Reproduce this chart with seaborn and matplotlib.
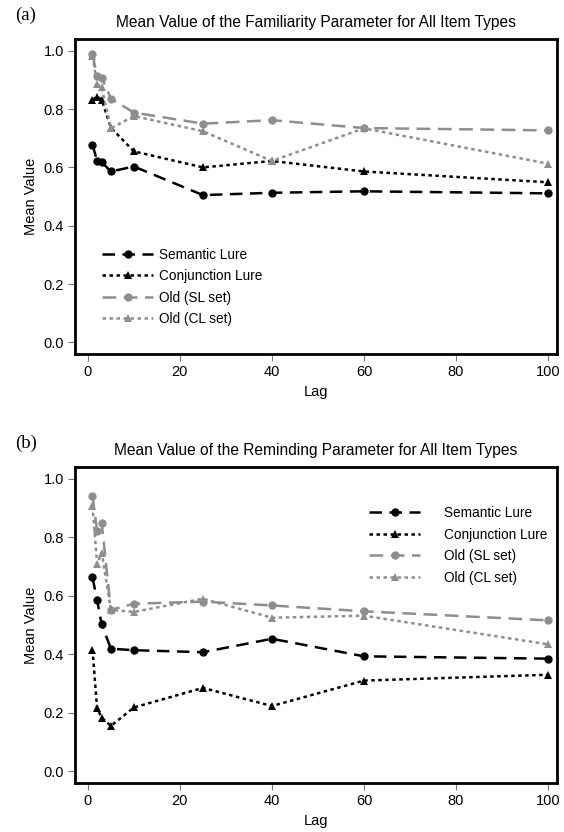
import pandas as pd
import seaborn as sns
import matplotlib.pyplot as plt

# --- data ---
lags = [1, 2, 3, 5, 10, 25, 40, 60, 100]
series_names = ["Semantic Lure", "Conjunction Lure", "Old (SL set)", "Old (CL set)"]

# (a) familiarity parameter
fam_semantic = [0.678, 0.622, 0.618, 0.586, 0.603, 0.505, 0.513, 0.518, 0.511]
fam_conjunction = [0.832, 0.843, 0.832, 0.736, 0.655, 0.600, 0.622, 0.586, 0.549]
fam_old_sl = [0.988, 0.912, 0.908, 0.836, 0.788, 0.750, 0.762, 0.735, 0.727]
fam_old_cl = [0.982, 0.885, 0.875, 0.734, 0.776, 0.724, 0.622, 0.734, 0.613]

# (b) reminding parameter
rem_semantic = [0.663, 0.585, 0.502, 0.419, 0.414, 0.407, 0.453, 0.393, 0.385]
rem_conjunction = [0.416, 0.215, 0.183, 0.155, 0.218, 0.285, 0.223, 0.310, 0.330]
rem_old_sl = [0.942, 0.822, 0.850, 0.552, 0.573, 0.580, 0.567, 0.547, 0.516]
rem_old_cl = [0.908, 0.708, 0.748, 0.552, 0.545, 0.590, 0.525, 0.532, 0.434]

titles = ["Mean Value of the Familiarity Parameter for All Item Types",
          "Mean Value of the Reminding Parameter for All Item Types"]
panel_tags = ["(a)", "(b)"]


def to_long(vals_list):
    rows = []
    for name, vals in zip(series_names, vals_list):
        for lag, v in zip(lags, vals):
            rows.append({"Lag": lag, "Mean Value": v, "Type": name})
    return pd.DataFrame(rows)


df_a = to_long([fam_semantic, fam_conjunction, fam_old_sl, fam_old_cl])
df_b = to_long([rem_semantic, rem_conjunction, rem_old_sl, rem_old_cl])

sns.set_theme(style="white")
plt.rcParams['font.family'] = ['Liberation Sans', 'DejaVu Sans']
plt.rcParams['text.color'] = 'black'
plt.rcParams['axes.labelcolor'] = 'black'

palette = {"Semantic Lure": "black", "Conjunction Lure": "black",
           "Old (SL set)": "#8e8e8e", "Old (CL set)": "#8e8e8e"}
markers = {"Semantic Lure": "o", "Conjunction Lure": "^",
           "Old (SL set)": "o", "Old (CL set)": "^"}
dashes = {"Semantic Lure": (5, 3), "Conjunction Lure": (1.4, 1.4),
          "Old (SL set)": (5.5, 3), "Old (CL set)": (1.4, 1.4)}

fig = plt.figure(figsize=(5.64, 8.32), dpi=100)
ax_a = fig.add_axes([0.133, 0.5745, 0.855, 0.3785])
ax_b = fig.add_axes([0.133, 0.059, 0.855, 0.3795])

# legend placement / gap between handle and label differ per panel
panels = [(ax_a, df_a, titles[0], panel_tags[0], "lower left", (0.03, 0.05), 0.4),
          (ax_b, df_b, titles[1], panel_tags[1], "upper right", (1.004, 0.915), 1.7)]

for ax, df, title, tag, loc, anchor, textpad in panels:
    sns.lineplot(data=df, x="Lag", y="Mean Value", hue="Type", style="Type",
                 palette=palette, markers=markers, dashes=dashes,
                 hue_order=series_names, style_order=series_names,
                 linewidth=1.8, markersize=6, markeredgewidth=0, ax=ax)
    ax.set_xlim(-2.8, 102)
    ax.set_ylim(-0.04, 1.04)
    ax.set_xticks([0, 20, 40, 60, 80, 100])
    ax.set_yticks([0.0, 0.2, 0.4, 0.6, 0.8, 1.0])
    ax.set_yticklabels(["0.0", "0.2", "0.4", "0.6", "0.8", "1.0"])
    ax.tick_params(axis="both", which="both", direction="out", length=5, width=0.8,
                   color="#777777", labelcolor="black", labelsize=10.5, pad=3,
                   bottom=True, left=True)
    for s in ax.spines.values():
        s.set_linewidth(2)
        s.set_color("black")
    ax.set_xlabel("Lag", fontsize=10.5)
    ax.set_ylabel("Mean Value", fontsize=10.5)
    ax.set_title(title, fontsize=11.2, pad=9)
    ax.text(-0.125, 1.075, tag, transform=ax.transAxes, fontsize=13.5,
            family="Liberation Serif", ha="left", va="center")
    ax.legend(loc=loc, frameon=False, fontsize=9.8, handlelength=3.8,
              labelspacing=0.55, handletextpad=textpad, bbox_to_anchor=anchor)

fig.savefig("out.png", dpi=100)
